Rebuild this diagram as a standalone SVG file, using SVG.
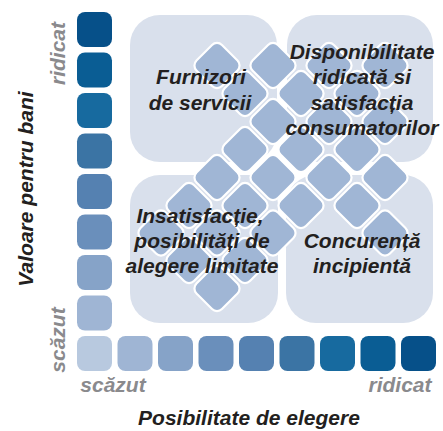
<svg xmlns="http://www.w3.org/2000/svg" xmlns:xlink="http://www.w3.org/1999/xlink" width="443" height="431" viewBox="0 0 443 431">
<style>
.q{fill:#d9e0ec}
.dm{fill:#a0b6d5;stroke:#fff;stroke-width:2.2}
.lbl{font-family:"Liberation Sans",Arial,sans-serif;font-weight:bold;font-style:italic;font-size:21px;fill:#231f20;text-anchor:middle}
.ax{font-family:"Liberation Sans",Arial,sans-serif;font-weight:bold;font-style:italic;font-size:21px;fill:#8a8a8d;text-anchor:middle}
</style>
<defs>
<rect id="d" x="-18" y="-18" width="36" height="36" rx="7"/>
<rect id="s" x="0" y="0" width="35" height="35" rx="8"/>
</defs>
<rect width="443" height="431" fill="#fff"/>
<g id="quadrants">
<rect id="q-tl" class="q" x="130" y="15" width="147" height="147" rx="30"/>
<rect id="q-tr" class="q" x="287" y="15" width="146" height="147" rx="30"/>
<rect id="q-bl" class="q" x="130" y="175" width="148" height="148" rx="30"/>
<rect id="q-br" class="q" x="286" y="175" width="147" height="148" rx="30"/>
</g>
<g id="diamonds" class="dm">
<use xlink:href="#d" transform="translate(217,65.5) rotate(45)"/>
<use xlink:href="#d" transform="translate(273,65.5) rotate(45)"/>
<use xlink:href="#d" transform="translate(329,65.5) rotate(45)"/>
<use xlink:href="#d" transform="translate(385,65.5) rotate(45)"/>
<use xlink:href="#d" transform="translate(245,93.5) rotate(45)"/>
<use xlink:href="#d" transform="translate(301,93.5) rotate(45)"/>
<use xlink:href="#d" transform="translate(357,93.5) rotate(45)"/>
<use xlink:href="#d" transform="translate(273,121.5) rotate(45)"/>
<use xlink:href="#d" transform="translate(329,121.5) rotate(45)"/>
<use xlink:href="#d" transform="translate(385,121.5) rotate(45)"/>
<use xlink:href="#d" transform="translate(245,149.5) rotate(45)"/>
<use xlink:href="#d" transform="translate(301,149.5) rotate(45)"/>
<use xlink:href="#d" transform="translate(357,149.5) rotate(45)"/>
<use xlink:href="#d" transform="translate(217,177.5) rotate(45)"/>
<use xlink:href="#d" transform="translate(273,177.5) rotate(45)"/>
<use xlink:href="#d" transform="translate(329,177.5) rotate(45)"/>
<use xlink:href="#d" transform="translate(385,177.5) rotate(45)"/>
<use xlink:href="#d" transform="translate(189,205.5) rotate(45)"/>
<use xlink:href="#d" transform="translate(245,205.5) rotate(45)"/>
<use xlink:href="#d" transform="translate(301,205.5) rotate(45)"/>
<use xlink:href="#d" transform="translate(357,205.5) rotate(45)"/>
<use xlink:href="#d" transform="translate(161,233) rotate(45)"/>
<use xlink:href="#d" transform="translate(217,233) rotate(45)"/>
<use xlink:href="#d" transform="translate(273,233) rotate(45)"/>
<use xlink:href="#d" transform="translate(385,233) rotate(45)"/>
<use xlink:href="#d" transform="translate(189,260.5) rotate(45)"/>
<use xlink:href="#d" transform="translate(245,260.5) rotate(45)"/>
<use xlink:href="#d" transform="translate(217,288.5) rotate(45)"/>
</g>
<g id="scale-v">
<use xlink:href="#s" x="77" y="12" fill="#065089"/>
<use xlink:href="#s" x="77" y="52.5" fill="#0a5d94"/>
<use xlink:href="#s" x="77" y="93" fill="#176a9f"/>
<use xlink:href="#s" x="77" y="133.5" fill="#3b74a4"/>
<use xlink:href="#s" x="77" y="174" fill="#5581b1"/>
<use xlink:href="#s" x="77" y="214.5" fill="#6a8fbb"/>
<use xlink:href="#s" x="77" y="255" fill="#86a3c8"/>
<use xlink:href="#s" x="77" y="295.5" fill="#9fb5d4"/>
</g>
<g id="scale-h">
<use xlink:href="#s" x="77" y="336" fill="#b8c9df"/>
<use xlink:href="#s" x="117.5" y="336" fill="#9fb5d4"/>
<use xlink:href="#s" x="158" y="336" fill="#86a3c8"/>
<use xlink:href="#s" x="198.5" y="336" fill="#6a8fbb"/>
<use xlink:href="#s" x="239" y="336" fill="#5581b1"/>
<use xlink:href="#s" x="279.5" y="336" fill="#3b74a4"/>
<use xlink:href="#s" x="320" y="336" fill="#176a9f"/>
<use xlink:href="#s" x="360.5" y="336" fill="#0a5d94"/>
<use xlink:href="#s" x="401" y="336" fill="#065089"/>
</g>
<g id="labels">
<text class="lbl" x="201" y="84">Furnizori</text>
<text class="lbl" x="200" y="109.5">de servicii</text>
<text class="lbl" x="362" y="58.5">Disponibilitate</text>
<text class="lbl" x="362" y="84">ridicată si</text>
<text class="lbl" x="362" y="109.5">satisfacția</text>
<text class="lbl" x="362" y="135">consumatorilor</text>
<text class="lbl" x="200" y="223">Insatisfacție,</text>
<text class="lbl" x="202" y="248">posibilități de</text>
<text class="lbl" x="202" y="273">alegere limitate</text>
<text class="lbl" x="362" y="248">Concurență</text>
<text class="lbl" x="362" y="273">incipientă</text>
</g>
<g id="axes">
<text class="ax" transform="translate(65,53.5) rotate(-90)">ridicat</text>
<text class="ax" transform="translate(65,340) rotate(-90)">scăzut</text>
<text class="ax" x="113" y="392">scăzut</text>
<text class="ax" x="400" y="392">ridicat</text>
<text class="lbl" x="249" y="425">Posibilitate de elegere</text>
<text class="lbl" transform="translate(33,189) rotate(-90)">Valoare pentru bani</text>
</g>
</svg>
